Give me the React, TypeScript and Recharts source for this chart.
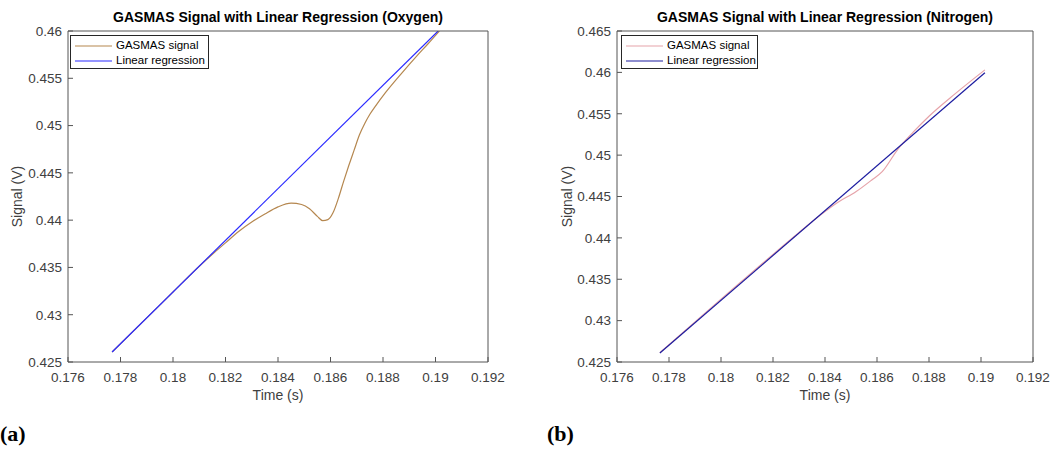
import { LineChart, Line, XAxis, YAxis, Legend } from "recharts";

// oxygen panel (a)
const OXY_T = [
  0.17768, 0.179, 0.18, 0.181, 0.1815, 0.182, 0.1825, 0.183, 0.1835, 0.184, 0.1845, 0.1849, 0.1852, 0.1855,
  0.1857, 0.1859, 0.1861, 0.1863, 0.1865, 0.1867, 0.1869, 0.1871, 0.1873, 0.1875, 0.1877, 0.1881, 0.1887,
  0.1893, 0.1897, 0.19015,
];
const OXY_SIGNAL = [
  0.42606, 0.42966, 0.4324, 0.43513, 0.4364, 0.4376, 0.4388, 0.4398, 0.44065, 0.4414, 0.4418, 0.44165, 0.4412,
  0.4404, 0.43995, 0.44005, 0.4408, 0.4423, 0.4441, 0.4458, 0.4474, 0.4490, 0.4502, 0.4512, 0.452, 0.4535,
  0.4555, 0.4574, 0.4586, 0.46,
];
const OXY_FIT_T = [0.17768, 0.1901];
const OXY_FIT = [0.42606, 0.46];

// nitrogen panel (b)
const NIT_T = [
  0.17765, 0.179, 0.18, 0.181, 0.182, 0.183, 0.1838, 0.1845, 0.1852, 0.1858, 0.1862, 0.1868, 0.1874, 0.188,
  0.189, 0.19015,
];
const NIT_SIGNAL = [
  0.42612, 0.42985, 0.4326, 0.4353, 0.438, 0.44065, 0.4427, 0.4443, 0.4456, 0.447, 0.448, 0.4507, 0.4528,
  0.4547, 0.4574, 0.4603,
];
const NIT_FIT_T = [0.17765, 0.19015];
const NIT_FIT = [0.42609, 0.45996];

const X_TICKS = [0.176, 0.178, 0.18, 0.182, 0.184, 0.186, 0.188, 0.19, 0.192];
const OXY_Y_TICKS = [0.425, 0.43, 0.435, 0.44, 0.445, 0.45, 0.455, 0.46];
const NIT_Y_TICKS = [0.425, 0.43, 0.435, 0.44, 0.445, 0.45, 0.455, 0.46, 0.465];

const SANS = "'Liberation Sans', Arial, Helvetica, sans-serif";
const AXIS = "#555";
const TEXT = "#404040";

const fmt = (v: number) => String(Number(Number(v).toFixed(3)));
const zip = (t: number[], v: number[]) => t.map((x, i) => ({ t: x, v: v[i] }));

type PanelProps = {
  left: number;
  width: number;
  yAxisWidth: number;
  right: number;
  title: string;
  t: number[];
  signal: number[];
  fitT: number[];
  fit: number[];
  yTicks: number[];
  signalColor: string;
  fitColor: string;
  legendLeft: number;
  legendWidth: number;
  yLabelOffset: number;
  tag: string;
  tagLeft: number;
};

function Panel(p: PanelProps) {
  const sig = zip(p.t, p.signal);
  const fit = zip(p.fitT, p.fit);
  const yDomain = [p.yTicks[0], p.yTicks[p.yTicks.length - 1]];
  const plotW = p.width - p.yAxisWidth - p.right;

  const legend = () => (
    <div
      style={{
        boxSizing: "border-box",
        width: p.legendWidth,
        height: 34,
        border: "1px solid #262626",
        background: "#fff",
        paddingTop: 2,
        fontFamily: SANS,
        fontSize: 11.5,
        color: "#000",
      }}
    >
      {[
        ["GASMAS signal", p.signalColor],
        ["Linear regression", p.fitColor],
      ].map(([name, c]) => (
        <div key={name} style={{ height: 15, display: "flex", alignItems: "center" }}>
          <svg width={37} height={4} style={{ marginLeft: 4, marginRight: 4 }}>
            <line x1={0} y1={2} x2={37} y2={2} stroke={c} strokeWidth={1.2} />
          </svg>
          <span style={{ lineHeight: "15px" }}>{name}</span>
        </div>
      ))}
    </div>
  );

  return (
    <div style={{ position: "absolute", left: p.left, top: 0, width: p.width, height: 450 }}>
      <div
        style={{
          position: "absolute",
          left: p.yAxisWidth,
          width: plotW,
          top: 9,
          textAlign: "center",
          fontFamily: SANS,
          fontWeight: "bold",
          fontSize: 14,
          lineHeight: "17px",
          color: "#000",
          whiteSpace: "nowrap",
        }}
      >
        {p.title}
      </div>
      <LineChart width={p.width} height={412} margin={{ top: 30, right: p.right - 1, bottom: 12, left: 0 }}>
        <XAxis
          xAxisId="b"
          type="number"
          dataKey="t"
          domain={[0.176, 0.192]}
          ticks={X_TICKS}
          tickFormatter={fmt}
          height={38}
          tickSize={-5}
          tickMargin={15.5}
          stroke={AXIS}
          tick={{ fill: TEXT, fontSize: 13.5, fontFamily: SANS }}
          allowDataOverflow
          label={{ value: "Time (s)", position: "insideBottom", offset: 0, fill: TEXT, fontSize: 14, fontFamily: SANS }}
        />
        <XAxis
          xAxisId="t"
          orientation="top"
          type="number"
          dataKey="t"
          domain={[0.176, 0.192]}
          ticks={X_TICKS}
          height={1}
          tickSize={-5}
          tick={false}
          stroke={AXIS}
          allowDataOverflow
        />
        <YAxis
          yAxisId="l"
          type="number"
          domain={yDomain}
          ticks={p.yTicks}
          tickFormatter={fmt}
          width={p.yAxisWidth}
          tickSize={-5}
          tickMargin={11}
          stroke={AXIS}
          tick={{ fill: TEXT, fontSize: 13.5, fontFamily: SANS }}
          allowDataOverflow
          label={{
            value: "Signal (V)",
            angle: -90,
            position: "insideLeft",
            offset: p.yLabelOffset,
            fill: TEXT,
            fontSize: 14,
            fontFamily: SANS,
            style: { textAnchor: "middle" },
          }}
        />
        <YAxis
          yAxisId="r"
          orientation="right"
          type="number"
          domain={yDomain}
          ticks={p.yTicks}
          width={1}
          tickSize={-5}
          tick={false}
          stroke={AXIS}
          allowDataOverflow
        />
        <Legend
          layout="vertical"
          align="center"
          verticalAlign="middle"
          content={legend}
          wrapperStyle={{ left: p.legendLeft, top: 35, width: p.legendWidth, height: 34 }}
        />
        <Line
          xAxisId="b"
          yAxisId="l"
          data={sig}
          dataKey="v"
          type="monotone"
          stroke={p.signalColor}
          strokeWidth={1.2}
          dot={false}
          isAnimationActive={false}
        />
        <Line
          xAxisId="b"
          yAxisId="l"
          data={fit}
          dataKey="v"
          type="linear"
          stroke={p.fitColor}
          strokeWidth={1.2}
          dot={false}
          isAnimationActive={false}
        />
        {/* invisible copy keeps the top/right frame axes bound to data */}
        <Line
          xAxisId="t"
          yAxisId="r"
          data={fit}
          dataKey="v"
          stroke="none"
          dot={false}
          legendType="none"
          isAnimationActive={false}
        />
      </LineChart>
      <div
        style={{
          position: "absolute",
          left: p.tagLeft,
          top: 421,
          fontFamily: "'Liberation Serif', 'DejaVu Serif', serif",
          fontWeight: "bold",
          fontSize: 22,
          lineHeight: "26px",
          color: "#000",
        }}
      >
        {p.tag}
      </div>
    </div>
  );
}

export default function App() {
  return (
    <div style={{ position: "absolute", left: 0, top: 0, width: 1056, height: 450, background: "#fff", overflow: "hidden" }}>
      <Panel
        left={0}
        width={520}
        yAxisWidth={68}
        right={32}
        title="GASMAS Signal with Linear Regression (Oxygen)"
        t={OXY_T}
        signal={OXY_SIGNAL}
        fitT={OXY_FIT_T}
        fit={OXY_FIT}
        yTicks={OXY_Y_TICKS}
        signalColor="#b5874f"
        fitColor="#2a2aff"
        legendLeft={70}
        legendWidth={139}
        yLabelOffset={17}
        tag="(a)"
        tagLeft={0}
      />
      <Panel
        left={530}
        width={526}
        yAxisWidth={87}
        right={23}
        title="GASMAS Signal with Linear Regression (Nitrogen)"
        t={NIT_T}
        signal={NIT_SIGNAL}
        fitT={NIT_FIT_T}
        fit={NIT_FIT}
        yTicks={NIT_Y_TICKS}
        signalColor="#e6a3a9"
        fitColor="#1c1ca0"
        legendLeft={91}
        legendWidth={137}
        yLabelOffset={37}
        tag="(b)"
        tagLeft={17}
      />
    </div>
  );
}
